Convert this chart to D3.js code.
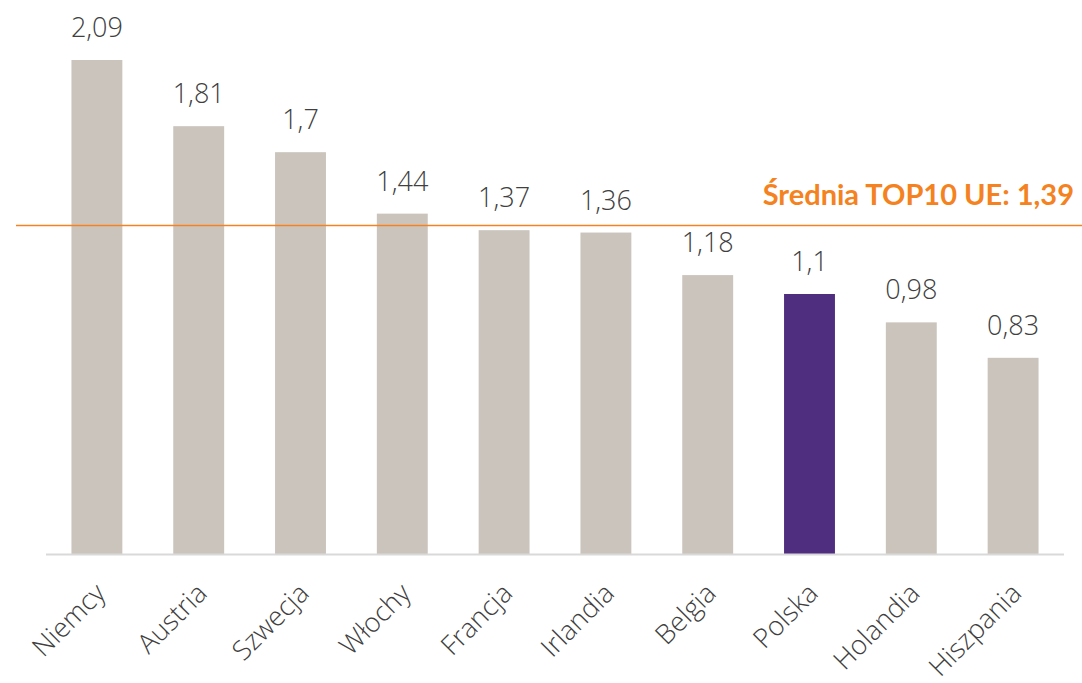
<!DOCTYPE html>
<html><head><meta charset="utf-8">
<script src="https://cdn.jsdelivr.net/npm/d3@7"></script>
<style>body{margin:0;background:#fff;} svg{display:block;}</style>
</head><body>
<script>
const categories = ["Niemcy","Austria","Szwecja","Włochy","Francja","Irlandia","Belgia","Polska","Holandia","Hiszpania"];
const values = [2.09,1.81,1.7,1.44,1.37,1.36,1.18,1.1,0.98,0.83];
const highlight = ["Polska"];
const averageValue = 1.39;
const averageLabel = "Średnia TOP10 UE: 1,39";

const W = 1082, H = 683;
const svg = d3.select("body").append("svg").attr("width", W).attr("height", H);
const x = d3.scaleBand().domain(categories).range([46, 1064]).paddingInner(0.5).paddingOuter(0.25);
const y = d3.scaleLinear().domain([0, 2.09]).range([554, 60]);
const fmt = v => String(v).replace(".", ",");

svg.selectAll("rect.bar").data(categories).join("rect")
  .attr("x", d => x(d)).attr("width", x.bandwidth())
  .attr("y", (d,i) => y(values[i])).attr("height", (d,i) => y(0) - y(values[i]))
  .attr("fill", d => highlight.includes(d) ? "#4f2d7f" : "#cbc4bd");

svg.append("line").attr("x1", 46).attr("x2", 1064).attr("y1", y(0)+0.5).attr("y2", y(0)+0.5)
  .attr("stroke", "#d9d9d9").attr("stroke-width", 2);

svg.selectAll("text.val").data(categories).join("text")
  .attr("x", d => x(d) + x.bandwidth()/2).attr("y", (d,i) => y(values[i]) - 23)
  .attr("text-anchor", "middle").attr("font-family", "Open Sans").attr("font-weight", 300)
  .attr("font-size", 27).attr("fill", "#404040").text((d,i) => fmt(values[i]));

svg.selectAll("text.cat").data(categories).join("text")
  .attr("transform", d => `translate(${x(d) + x.bandwidth()/2 + 10},${595}) rotate(-45)`)
  .attr("text-anchor", "end").attr("font-family", "Open Sans").attr("font-weight", 300)
  .attr("font-size", 27).attr("fill", "#404040").text(d => d);

svg.append("line").attr("x1", 16).attr("x2", W).attr("y1", y(averageValue)).attr("y2", y(averageValue))
  .attr("stroke", "#f58220").attr("stroke-width", 1.5);
svg.append("text").attr("x", 1074).attr("y", 205).attr("text-anchor", "end")
  .attr("font-family", "Lato").attr("font-weight", 700).attr("font-size", 29)
  .attr("fill", "#f58220").text(averageLabel);
</script>
</body></html>
